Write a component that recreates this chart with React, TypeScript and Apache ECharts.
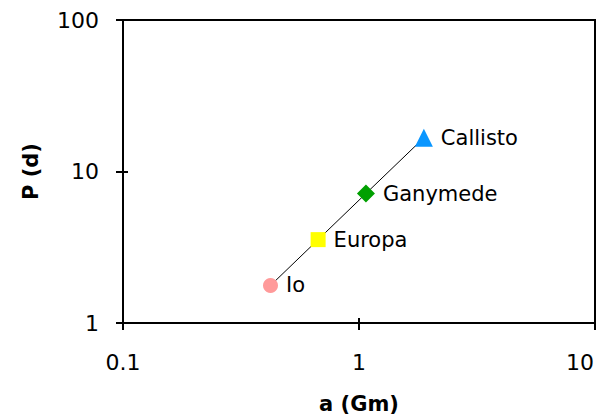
import React, { useEffect, useRef } from "react";
import * as echarts from "echarts";

const moons = ["Io", "Europa", "Ganymede", "Callisto"];
const semiMajorAxisGm = [0.4217, 0.6711, 1.07, 1.883];
const periodDays = [1.769, 3.551, 7.155, 16.69];
const symbols = ["circle", "rect", "diamond", "triangle"];
const symbolSizes = [15, 15, 18, 18];
const colors = ["#ff9a9a", "#ffff00", "#00a000", "#0a96ff"];
const xTicks = [0.1, 1, 10];
const yTicks = [1, 10, 100];

const FONT = "DejaVu Sans";

export default function App() {
  const ref = useRef<HTMLDivElement>(null);
  useEffect(() => {
    if (!ref.current) return;
    const chart = echarts.init(ref.current, null, { renderer: "svg" });
    const baseX = {
      type: "log",
      logBase: 10,
      min: xTicks[0],
      max: xTicks[xTicks.length - 1],
      gridIndex: 0,
      position: "bottom",
      splitLine: { show: false },
      minorTick: { show: false },
    };
    const baseY = {
      type: "log",
      logBase: 10,
      min: yTicks[0],
      max: yTicks[yTicks.length - 1],
      gridIndex: 0,
      position: "left",
      splitLine: { show: false },
      minorTick: { show: false },
    };
    const data = moons.map((m, i) => ({
      name: m,
      value: [semiMajorAxisGm[i], periodDays[i]],
      symbol: symbols[i],
      symbolSize: symbolSizes[i],
      itemStyle: { color: colors[i] },
    }));
    const lastX = xTicks[xTicks.length - 1];
    chart.setOption({
      animation: false,
      backgroundColor: "#ffffff",
      grid: {
        left: 123,
        top: 20,
        width: 472,
        height: 303,
        show: true,
        borderColor: "#000",
        borderWidth: 2,
        containLabel: false,
      },
      xAxis: [
        {
          ...baseX,
          name: "a (Gm)",
          nameLocation: "middle",
          nameGap: 70,
          nameTextStyle: { fontFamily: FONT, fontSize: 21, fontWeight: "bold", color: "#000" },
          axisLine: { show: true, lineStyle: { color: "#000", width: 2 } },
          axisTick: { show: true, inside: false, length: 7, lineStyle: { color: "#000", width: 2 } },
          axisLabel: {
            show: true,
            margin: 28,
            fontFamily: FONT,
            fontSize: 22,
            color: "#000",
            formatter: (v: number) => (v === lastX ? "{r|" + v + "}" : String(v)),
            rich: {
              r: { fontFamily: FONT, fontSize: 22, color: "#000", padding: [0, 30, 0, 0] },
            },
          },
        },
        {
          ...baseX,
          axisLine: { show: false },
          axisTick: { show: true, inside: true, length: 5, lineStyle: { color: "#000", width: 2 } },
          axisLabel: { show: false },
        },
      ],
      yAxis: [
        {
          ...baseY,
          name: "P (d)",
          nameLocation: "middle",
          nameGap: 82,
          nameTextStyle: { fontFamily: FONT, fontSize: 21, fontWeight: "bold", color: "#000" },
          axisLine: { show: true, lineStyle: { color: "#000", width: 2 } },
          axisTick: { show: true, inside: false, length: 7, lineStyle: { color: "#000", width: 2 } },
          axisLabel: {
            show: true,
            margin: 24,
            fontFamily: FONT,
            fontSize: 22,
            color: "#000",
            formatter: (v: number) => String(v),
          },
        },
        {
          ...baseY,
          axisLine: { show: false },
          axisTick: { show: true, inside: true, length: 5, lineStyle: { color: "#000", width: 2 } },
          axisLabel: { show: false },
        },
      ],
      series: [
        {
          type: "line",
          xAxisIndex: 0,
          yAxisIndex: 0,
          data,
          showAllSymbol: true,
          lineStyle: { color: "#000", width: 1 },
          label: {
            show: true,
            position: "right",
            distance: 8,
            formatter: "{b}",
            fontFamily: FONT,
            fontSize: 21,
            color: "#000",
          },
          emphasis: { disabled: true },
        },
      ],
    });
    return () => chart.dispose();
  }, []);
  return (
    <div
      ref={ref}
      style={{ position: "fixed", left: 0, top: 0, width: 613, height: 420 }}
    />
  );
}
